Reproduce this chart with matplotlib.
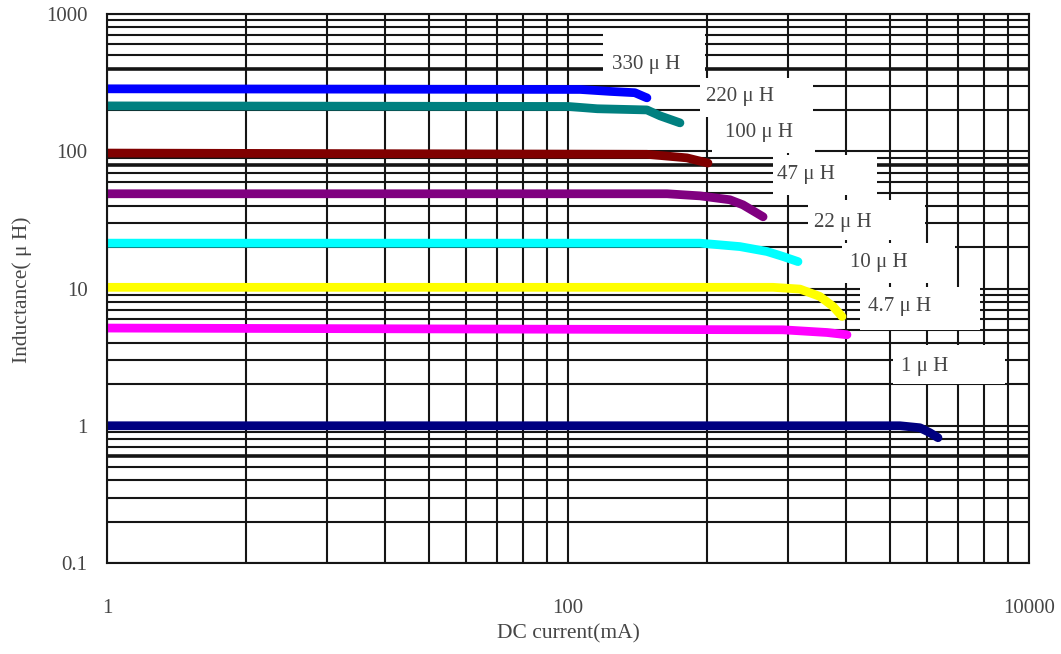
import matplotlib
matplotlib.use("Agg")
import matplotlib.pyplot as plt
from matplotlib.patches import Rectangle
from matplotlib.ticker import FixedLocator, NullFormatter, FixedFormatter

# ---------------- data ----------------
labels = ["330 μ H", "220 μ H", "100 μ H", "47 μ H", "22 μ H", "10 μ H", "4.7 μ H", "1 μ H"]
colors = ["#0000FF", "#008080", "#800000", "#800080", "#00FFFF", "#FFFF00", "#FF00FF", "#000080"]

cur_330 = [1, 113, 152, 195, 216, 220]
ind_330 = [285, 282, 273, 267, 248, 245]
cur_220 = [1, 100, 134, 220, 251, 306]
ind_220 = [214, 212, 204, 200, 181, 161]
cur_100 = [1, 220, 328, 405]
ind_100 = [97, 95, 89.5, 82]
cur_47 = [1, 269, 374, 504, 574, 702]
ind_47 = [49, 49, 47.3, 44.3, 40.7, 33.3]
cur_22 = [1, 374, 557, 730, 857, 995]
ind_22 = [21.4, 21.4, 20.2, 18.6, 17.1, 15.7]
cur_10 = [1, 775, 1015, 1238, 1413, 1545]
ind_10 = [10.2, 10.2, 9.9, 8.75, 7.4, 6.25]
cur_4_7 = [1, 857, 1330, 1623]
ind_4_7 = [5.15, 5.0, 4.78, 4.6]
cur_1 = [1, 2756, 3365, 3718, 4029]
ind_1 = [1.0, 1.0, 0.967, 0.889, 0.818]

currents = [cur_330, cur_220, cur_100, cur_47, cur_22, cur_10, cur_4_7, cur_1]
inductances = [ind_330, ind_220, ind_100, ind_47, ind_22, ind_10, ind_4_7, ind_1]

x_ticks = [1, 100, 10000]
x_tick_labels = ["1", "100", "10000"]
y_ticks = [0.1, 1, 10, 100, 1000]
y_tick_labels = ["0.1", "1", "10", "100", "1000"]

# ---------------- layout ----------------
W, H = 1061, 654
AX_L, AX_R, AX_T, AX_B = 107, 1029, 14, 563

def fx(px):
    return (px - AX_L) / (AX_R - AX_L)

def fy(py):
    return (AX_B - py) / (AX_B - AX_T)

# label text centres (pixels) and white boxes (x0, ytop, x1, ybottom)
label_pos = [(646, 64), (740, 97), (759, 133), (806, 174), (843, 222), (879, 262), (900, 307), (925, 366)]
label_box = [(603, 31, 705, 81), (700, 78, 813, 117), (712, 117, 815, 153), (773, 155, 877, 195),
             (808, 200, 925, 240), (842, 243, 955, 283), (860, 287, 980, 330), (893, 345, 1005, 384)]

FONT = ["Liberation Serif", "DejaVu Serif"]
TXT = "#454545"
GRID = "#151515"

fig = plt.figure(figsize=(W / 100, H / 100), dpi=100)
ax = fig.add_axes([AX_L / W, 1 - AX_B / H, (AX_R - AX_L) / W, (AX_B - AX_T) / H])
ax.set_xscale("log")
ax.set_yscale("log")
ax.set_xlim(1, 10000)
ax.set_ylim(0.1, 1000)

# grid: x lines at k^2 * 100^n, y lines standard log decades
xgrid = sorted({(k * k) * (100 ** n) for n in range(2) for k in range(1, 11)})
ygrid = sorted({k * (10.0 ** n) for n in range(-1, 3) for k in range(1, 11)})
heavy_y = [400, 80, 0.6]
for v in xgrid:
    ax.axvline(v, color=GRID, lw=1.5, zorder=1)
for v in ygrid:
    lw = 2.6 if any(abs(v - h) / h < 1e-6 for h in heavy_y) else 1.5
    ax.axhline(v, color=GRID, lw=lw, zorder=1)

# white label boxes
for (x0, y0, x1, y1) in label_box:
    ax.add_patch(Rectangle((fx(x0), fy(y1)), fx(x1) - fx(x0), fy(y0) - fy(y1),
                           transform=ax.transAxes, facecolor="white", edgecolor="none", zorder=2))

# curves
for xs, ys, c in zip(currents, inductances, colors):
    ax.plot(xs, ys, color=c, lw=6.3, solid_capstyle="round", solid_joinstyle="round", zorder=3)

for lab, (px, py) in zip(labels, label_pos):
    ax.text(fx(px), fy(py), lab, transform=ax.transAxes, ha="center", va="center",
            fontsize=15, family=FONT, color=TXT, zorder=4)

ax.xaxis.set_major_locator(FixedLocator(x_ticks))
ax.xaxis.set_major_formatter(FixedFormatter(x_tick_labels))
ax.xaxis.set_minor_locator(FixedLocator([]))
ax.xaxis.set_minor_formatter(NullFormatter())
ax.yaxis.set_major_locator(FixedLocator(y_ticks))
ax.yaxis.set_major_formatter(FixedFormatter(y_tick_labels))
ax.yaxis.set_minor_locator(FixedLocator([]))
ax.yaxis.set_minor_formatter(NullFormatter())
ax.tick_params(axis="both", length=0, labelsize=15, labelcolor=TXT)
ax.tick_params(axis="x", pad=26)
ax.tick_params(axis="y", pad=14)
for t in ax.get_xticklabels() + ax.get_yticklabels():
    t.set_family(FONT)

for s in ax.spines.values():
    s.set_color(GRID)
    s.set_linewidth(1.5)
    s.set_zorder(5)

ax.set_xlabel("DC current(mA)", fontsize=15.5, family=FONT, color=TXT)
ax.xaxis.set_label_coords(0.5, fy(634), transform=ax.transAxes)
ax.xaxis.label.set_va("center")
ax.set_ylabel("Inductance( μ H)", fontsize=15.5, family=FONT, color=TXT)
ax.yaxis.set_label_coords(fx(22), fy(290), transform=ax.transAxes)
ax.yaxis.label.set_va("center")

fig.savefig("out.png", dpi=100)
